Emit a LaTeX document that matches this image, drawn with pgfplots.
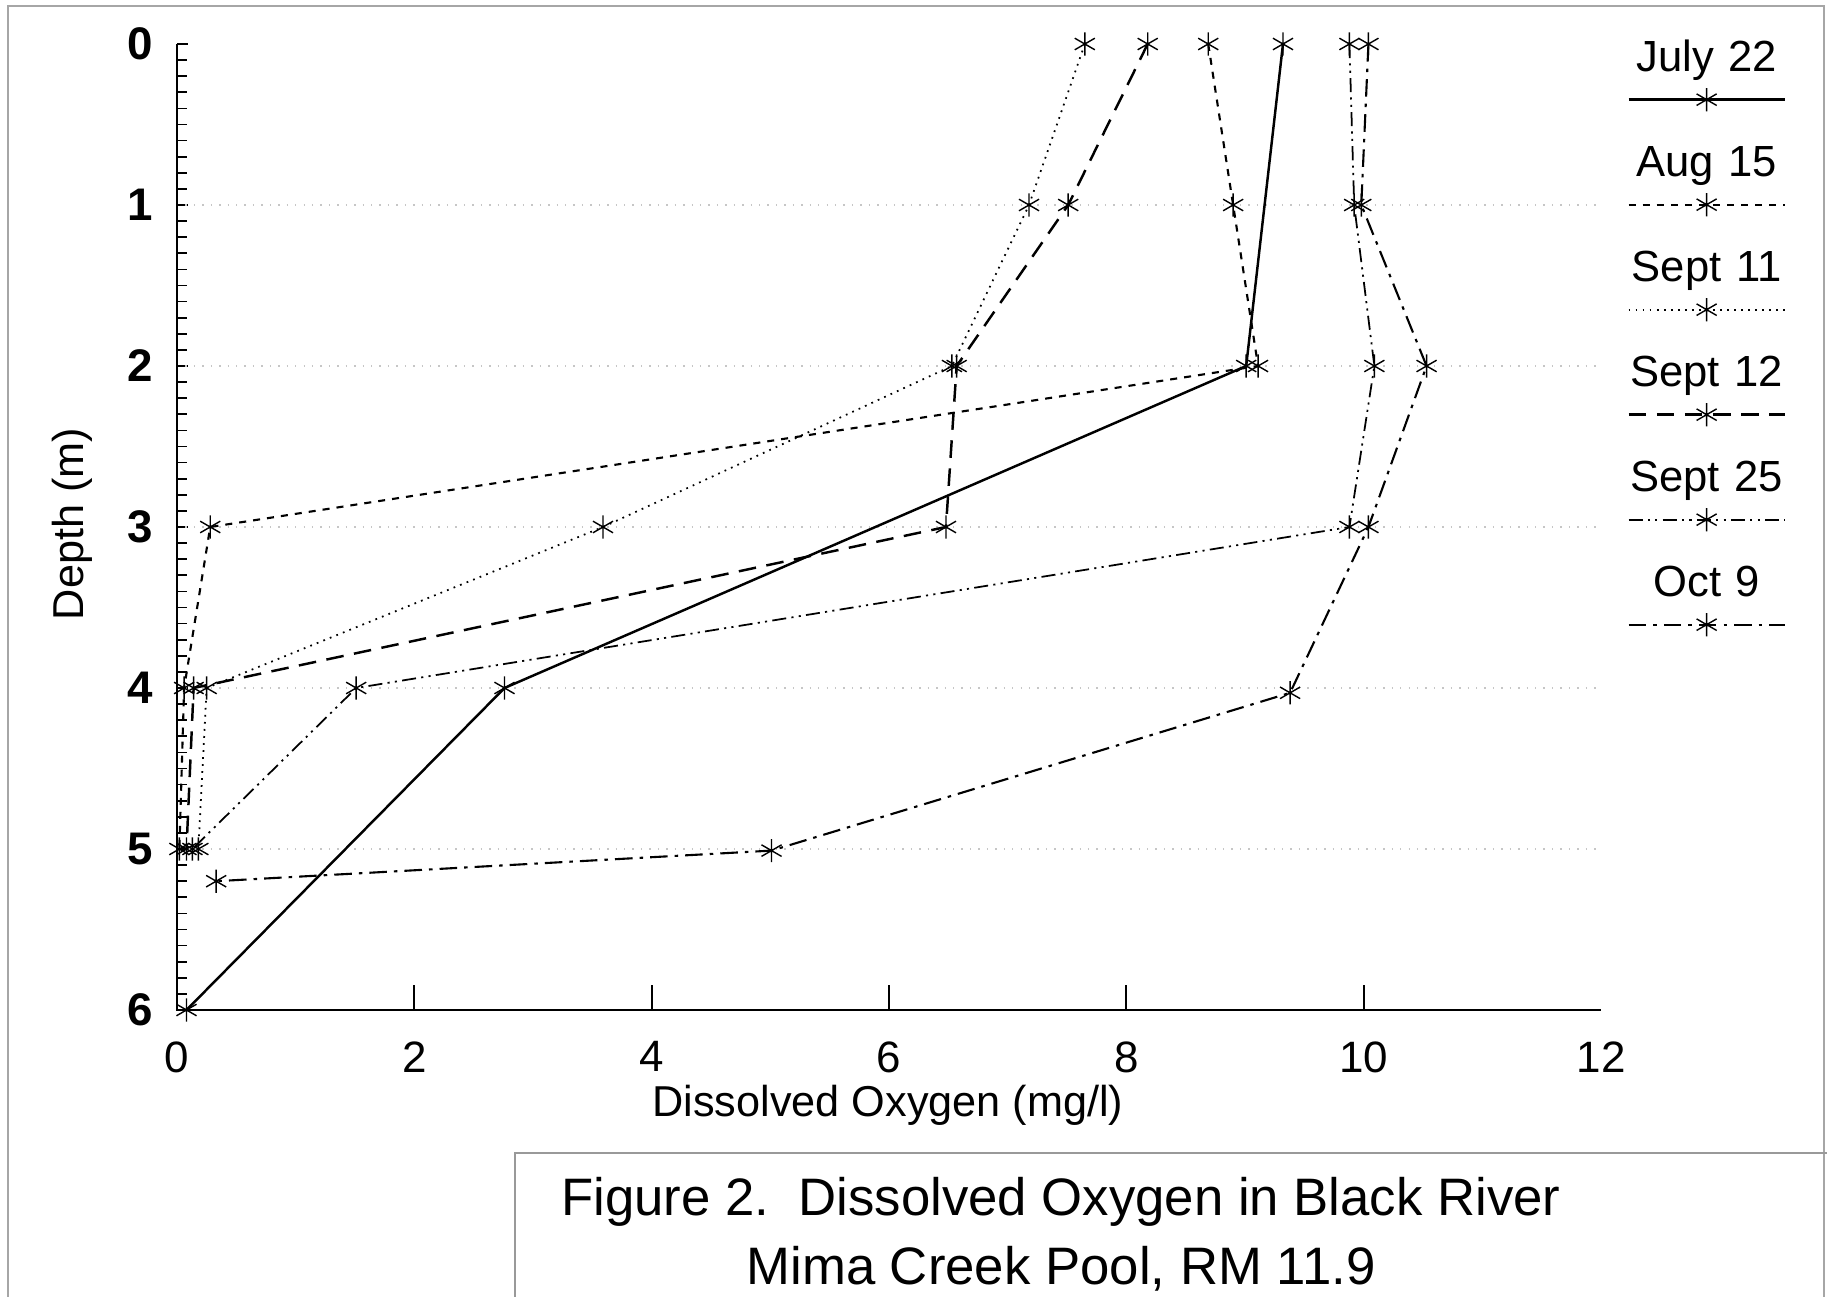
\documentclass[border=0pt]{standalone}
\usepackage{pgfplots}
\pgfplotsset{compat=1.18}
\usepackage{fontspec}
\setmainfont{Liberation Sans}
\pgfplotstableread{
x y
9.32 0
9.01 2
2.76 4
0.08 6
}\julyTwentyTwo
\pgfplotstableread{
x y
8.69 0
8.90 1
9.11 2
0.28 3
0.06 4
0.02 5
}\augFifteen
\pgfplotstableread{
x y
7.65 0
7.18 1
6.53 2
3.59 3
0.25 4
0.18 5
}\septEleven
\pgfplotstableread{
x y
8.18 0
7.51 1
6.57 2
6.48 3
0.14 4
0.08 5
}\septTwelve
\pgfplotstableread{
x y
9.88 0
9.92 1
10.09 2
9.88 3
1.51 4
0.13 5
}\septTwentyFive
\pgfplotstableread{
x y
10.04 0
9.98 1
10.53 2
10.04 3
9.38 4.03
5.01 5.01
0.33 5.20
}\octNine
\begin{document}
\begin{tikzpicture}[x=1mm,y=1mm]
\useasboundingbox (0,0) rectangle (182.7,129.7);
\draw[gray!70, line width=0.5pt] (0.8,0) -- (0.8,129.1) -- (182.4,129.1) -- (182.4,0);
\draw[gray!80, line width=0.6pt] (51.5,0) -- (51.5,14.4) -- (182.7,14.4);
\node[font=\fontsize{15}{18}\selectfont] at (106.1,9.5) {Figure 2.\ \ Dissolved Oxygen in Black River};
\node[font=\fontsize{15}{18}\selectfont] at (106.1,2.8) {Mima Creek Pool, RM 11.9};
\node[font=\fontsize{12.3}{14}\selectfont] at (88.8,19.2) {Dissolved Oxygen (mg/l)};
\node[font=\fontsize{12.3}{14}\selectfont, rotate=90] at (7.2,77.3) {Depth (m)};
\begin{axis}[
  at={(17.7mm,28.7mm)}, anchor=south west,
  scale only axis, width=142.4mm, height=96.6mm,
  xmin=0, xmax=12, ymin=0, ymax=6, y dir=reverse,
  clip=false,
  axis line style={draw=none},
  xtick={0,2,...,10}, ytick={0,1,...,6},
  extra x ticks={12},
  extra x tick style={tick style={draw=none}},
  minor y tick num=9,
  xtick pos=bottom, ytick pos=left,
  tick align=inside,
  major tick length=1.1mm, minor tick length=1.0mm,
  xtick style={/pgfplots/major tick length=2.5mm},
  tick style={black, line width=0.5pt},
  /pgf/number format/assume math mode=true,
  xticklabel style={font=\fontsize{12.5}{14}\selectfont, yshift=-1.9mm},
  yticklabel style={font=\bfseries\fontsize{13}{15}\selectfont, xshift=-1.2mm},
  extra y ticks={1,2,3,4,5},
  extra y tick labels={},
  extra y tick style={ymajorgrids=true, major tick length=0pt},
  y grid style={gray!45, dotted, line width=0.7pt},
  legend style={at={(axis cs:12.89,-0.03)}, anchor=north, draw=none, fill=none,
    inner sep=0pt, outer sep=0pt, column sep=0pt, row sep=6.4mm,
    legend cell align=center,
    nodes={inner xsep=0pt, inner ysep=0pt, text width=16mm, align=center,
      text height=3.2mm, text depth=0.9mm, font=\fontsize{12.4}{14}\selectfont}},
  legend image code/.code={%
    \draw[overlay, mark repeat=2, mark phase=2, #1] plot coordinates {(0.2mm,-4.0mm) (8mm,-4.0mm) (15.8mm,-4.0mm)};
  },
  every axis plot/.append style={black, mark=asterisk, mark size=3.3pt, mark options={solid, line width=0.4pt}},
]
\addplot[line width=0.7pt] table[x=x,y=y] {\julyTwentyTwo};
\addlegendentry{July 22}
\addplot[line width=0.6pt, dash pattern=on 2pt off 2pt] table[x=x,y=y] {\augFifteen};
\addlegendentry{Aug 15}
\addplot[line width=0.5pt, dash pattern=on 0.5pt off 1.5pt] table[x=x,y=y] {\septEleven};
\addlegendentry{Sept 11}
\addplot[line width=0.7pt, dash pattern=on 5pt off 3pt] table[x=x,y=y] {\septTwelve};
\addlegendentry{Sept 12}
\addplot[line width=0.5pt, dash pattern=on 4pt off 1.5pt on 0.6pt off 1.5pt on 0.6pt off 1.5pt] table[x=x,y=y] {\septTwentyFive};
\addlegendentry{Sept 25}
\addplot[line width=0.6pt, dash pattern=on 5pt off 2pt on 1pt off 2pt] table[x=x,y=y] {\octNine};
\addlegendentry{Oct 9}
\draw[black, line width=0.8pt] (axis cs:0,0) -- (axis cs:0,6) -- (axis cs:12,6);
\end{axis}
\end{tikzpicture}
\end{document}
